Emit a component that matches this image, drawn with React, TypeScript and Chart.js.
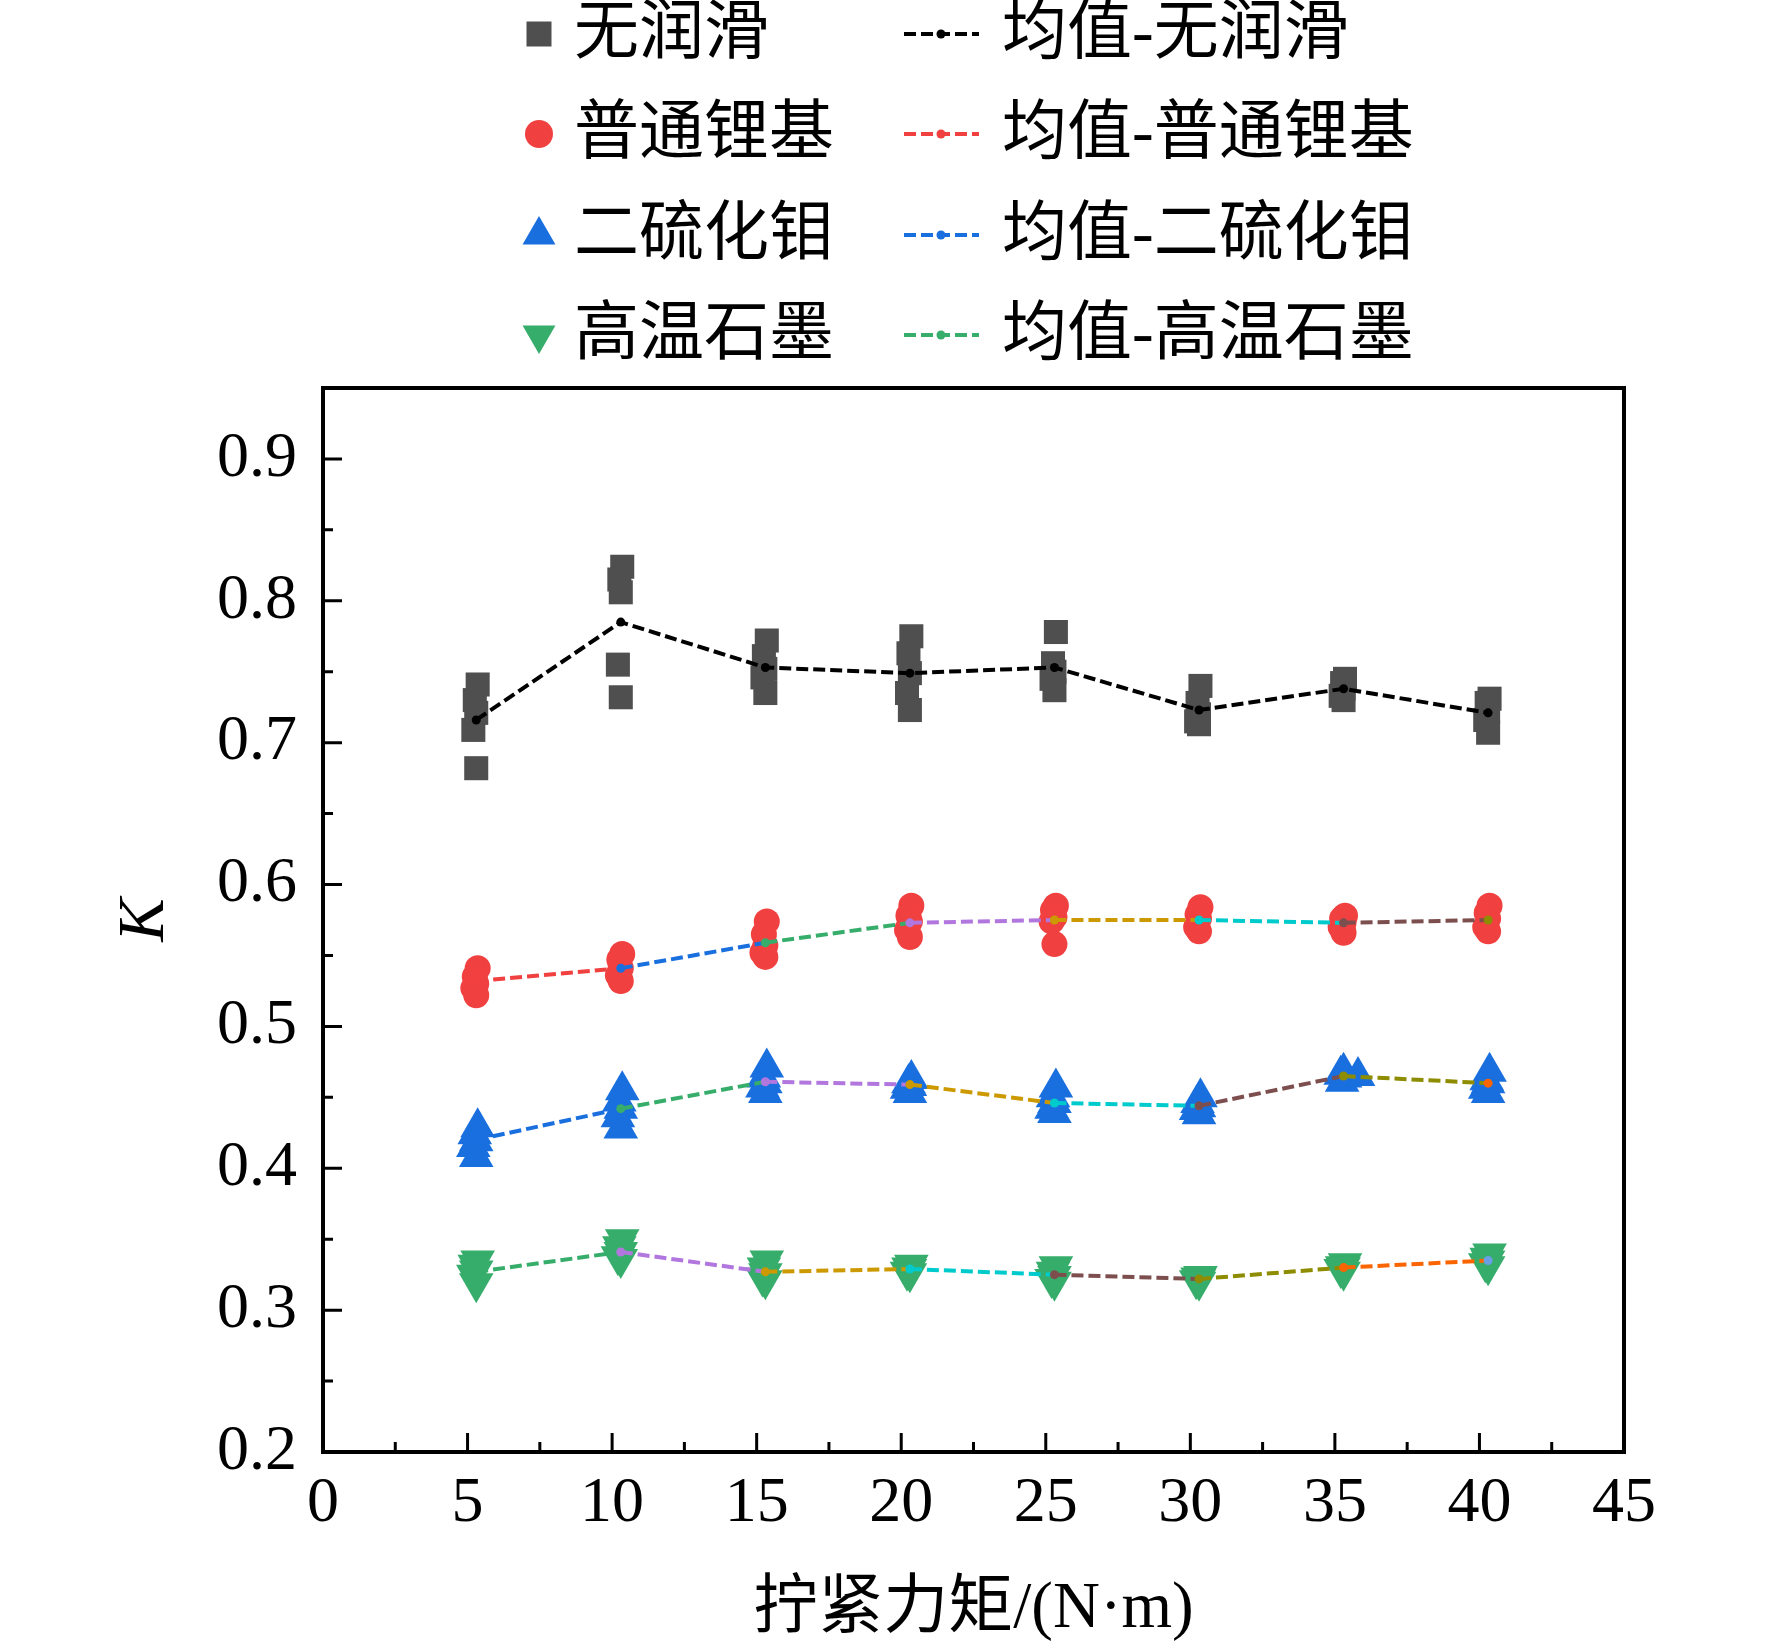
import { useEffect, useRef } from "react"
import { Chart, registerables, type ChartConfiguration, type Plugin } from "chart.js"

Chart.register(...registerables)

// 拧紧力矩 (N·m)
const torques = [5, 10, 15, 20, 25, 30, 35, 40]

// 每个力矩下 5 次测量的 K 值
const dryK = [
  [0.741, 0.730, 0.721, 0.709, 0.682],
  [0.824, 0.815, 0.806, 0.755, 0.732],
  [0.772, 0.761, 0.752, 0.746, 0.735],
  [0.775, 0.763, 0.749, 0.735, 0.723],
  [0.778, 0.756, 0.750, 0.745, 0.737],
  [0.740, 0.728, 0.720, 0.715, 0.713],
  [0.745, 0.742, 0.738, 0.733, 0.730],
  [0.731, 0.728, 0.722, 0.716, 0.707],
]
const lithiumK = [
  [0.541, 0.535, 0.530, 0.527, 0.522],
  [0.551, 0.547, 0.541, 0.536, 0.532],
  [0.574, 0.565, 0.557, 0.552, 0.549],
  [0.585, 0.578, 0.574, 0.568, 0.563],
  [0.585, 0.582, 0.577, 0.574, 0.558],
  [0.584, 0.579, 0.576, 0.570, 0.567],
  [0.578, 0.576, 0.573, 0.570, 0.566],
  [0.585, 0.580, 0.576, 0.570, 0.567],
]
const mos2K = [
  [0.429, 0.424, 0.419, 0.415, 0.408],
  [0.455, 0.447, 0.442, 0.436, 0.428],
  [0.471, 0.464, 0.460, 0.457, 0.453],
  [0.463, 0.460, 0.458, 0.456, 0.453],
  [0.457, 0.450, 0.446, 0.442, 0.439],
  [0.450, 0.446, 0.443, 0.441, 0.438],
  [0.468, 0.466, 0.465, 0.464, 0.461],
  [0.468, 0.462, 0.460, 0.456, 0.453],
]
const graphiteK = [
  [0.335, 0.332, 0.328, 0.325, 0.319],
  [0.350, 0.345, 0.341, 0.338, 0.336],
  [0.335, 0.330, 0.326, 0.323, 0.321],
  [0.332, 0.330, 0.329, 0.327, 0.326],
  [0.331, 0.327, 0.324, 0.322, 0.320],
  [0.324, 0.323, 0.322, 0.321, 0.320],
  [0.333, 0.331, 0.330, 0.329, 0.327],
  [0.340, 0.337, 0.335, 0.333, 0.331],
]

// 测点在横轴上的微小偏移 (N·m)
const jitter = [0.35, 0.25, 0.3, 0.2, 0.3]
const mos2Jitter35 = [0.3, 0.2, 0.8, 0.35, 0.25]
const meanOffset = 0.3

// 均值
const dryMean = [0.716, 0.785, 0.753, 0.749, 0.753, 0.723, 0.738, 0.721]
const lithiumMean = [0.532, 0.541, 0.559, 0.573, 0.575, 0.575, 0.573, 0.575]
const mos2Mean = [0.420, 0.442, 0.461, 0.459, 0.446, 0.444, 0.465, 0.460]
const graphiteMean = [0.327, 0.341, 0.327, 0.329, 0.325, 0.322, 0.330, 0.335]

const seriesNames = ["无润滑", "普通锂基", "二硫化钼", "高温石墨"]

const xTicks = [0, 5, 10, 15, 20, 25, 30, 35, 40, 45]
const xMinor = [2.5, 7.5, 12.5, 17.5, 22.5, 27.5, 32.5, 37.5, 42.5]
const yTicks = [0.2, 0.3, 0.4, 0.5, 0.6, 0.7, 0.8, 0.9]
const yMinor = [0.25, 0.35, 0.45, 0.55, 0.65, 0.75, 0.85]

const gray = "#4f4f4f"
const red = "#F14040"
const blue = "#1A6FDF"
const green = "#37AD6B"
const palette = ["#F14040", "#1A6FDF", "#37AD6B", "#B177DE", "#CC9900", "#00CBCC", "#7D4E4E", "#8E8C00", "#FB6501", "#6A9FE6"]

const FONT = '"Liberation Serif", "Noto Sans CJK SC", serif'

function toPoints(values: number[][], shift: (g: number, i: number) => number) {
  return values.flatMap((group, g) => group.map((y, i) => ({ x: torques[g] + shift(g, i), y })))
}

function meanPoints(values: number[]) {
  return values.map((y, i) => ({ x: torques[i] + meanOffset, y }))
}

function markerPath(ctx: CanvasRenderingContext2D, shape: string, x: number, y: number) {
  ctx.beginPath()
  if (shape === "rect") {
    ctx.rect(x - 12.5, y - 12.5, 25, 25)
  } else if (shape === "circle") {
    ctx.arc(x, y, 14, 0, Math.PI * 2)
  } else {
    const r = 19
    const dir = shape === "up" ? 1 : -1
    ctx.moveTo(x, y - dir * r)
    ctx.lineTo(x + r * Math.sin((2 * Math.PI) / 3), y + dir * r * 0.5)
    ctx.lineTo(x - r * Math.sin((2 * Math.PI) / 3), y + dir * r * 0.5)
    ctx.closePath()
  }
  ctx.fill()
}

// 边框、内向刻度与图例
const decorPlugin: Plugin = {
  id: "decor",
  afterDraw(chart) {
    const { ctx, chartArea } = chart
    const xs = chart.scales.x
    const ys = chart.scales.y
    ctx.save()
    ctx.strokeStyle = "#000"
    ctx.lineWidth = 3
    ctx.beginPath()
    xTicks.forEach((v) => {
      const px = xs.getPixelForValue(v)
      ctx.moveTo(px, chartArea.bottom)
      ctx.lineTo(px, chartArea.bottom - 19)
    })
    xMinor.forEach((v) => {
      const px = xs.getPixelForValue(v)
      ctx.moveTo(px, chartArea.bottom)
      ctx.lineTo(px, chartArea.bottom - 10)
    })
    yTicks.forEach((v) => {
      const py = ys.getPixelForValue(v)
      ctx.moveTo(chartArea.left, py)
      ctx.lineTo(chartArea.left + 19, py)
    })
    yMinor.forEach((v) => {
      const py = ys.getPixelForValue(v)
      ctx.moveTo(chartArea.left, py)
      ctx.lineTo(chartArea.left + 10, py)
    })
    ctx.stroke()
    ctx.lineWidth = 4
    ctx.strokeRect(chartArea.left, chartArea.top, chartArea.right - chartArea.left, chartArea.bottom - chartArea.top)

    // 图例
    const shapes = ["rect", "circle", "up", "down"]
    const fills = [gray, red, blue, green]
    const lines = ["#000", red, blue, green]
    const rowY = [34, 134, 235, 335]
    ctx.font = `65px ${FONT}`
    ctx.textBaseline = "middle"
    ctx.textAlign = "left"
    seriesNames.forEach((name, i) => {
      const y = rowY[i]
      ctx.fillStyle = fills[i]
      markerPath(ctx, shapes[i], 539, y)
      ctx.fillStyle = "#000"
      ctx.fillText(name, 574, y + 2)

      ctx.strokeStyle = lines[i]
      ctx.lineWidth = 4
      ctx.setLineDash([12, 5])
      ctx.beginPath()
      ctx.moveTo(904, y)
      ctx.lineTo(979, y)
      ctx.stroke()
      ctx.setLineDash([])
      ctx.fillStyle = lines[i]
      ctx.beginPath()
      ctx.arc(941, y, 4.5, 0, Math.PI * 2)
      ctx.fill()
      ctx.fillStyle = "#000"
      ctx.fillText(`均值-${name}`, 1002, y + 2)
    })
    ctx.restore()
  },
}

export default function App() {
  const canvasRef = useRef<HTMLCanvasElement>(null)
  const chartRef = useRef<Chart | null>(null)

  useEffect(() => {
    if (!canvasRef.current) return
    const ctx = canvasRef.current.getContext("2d")
    if (!ctx) return
    if (chartRef.current) chartRef.current.destroy()

    const scatterBase = { borderWidth: 0, pointHoverRadius: 0, order: 2 }
    const meanBase = {
      showLine: true,
      borderWidth: 4,
      borderDash: [12, 5],
      pointRadius: 4.5,
      pointBorderWidth: 0,
      pointHoverRadius: 0,
      tension: 0,
      fill: false,
      order: 0,
    }
    const cycled = (start: number) => ({
      borderColor: palette[start],
      pointBackgroundColor: torques.map((_, i) => palette[(start + i) % palette.length]),
      segment: {
        borderColor: (c: { p0DataIndex: number }) => palette[(start + c.p0DataIndex) % palette.length],
      },
    })

    const config: ChartConfiguration = {
      type: "scatter",
      data: {
        datasets: [
          { ...meanBase, label: `均值-${seriesNames[0]}`, data: meanPoints(dryMean), borderColor: "#000", pointBackgroundColor: "#000" },
          { ...meanBase, label: `均值-${seriesNames[1]}`, data: meanPoints(lithiumMean), ...cycled(0) },
          { ...meanBase, label: `均值-${seriesNames[2]}`, data: meanPoints(mos2Mean), ...cycled(1) },
          { ...meanBase, label: `均值-${seriesNames[3]}`, data: meanPoints(graphiteMean), ...cycled(2) },
          {
            ...scatterBase,
            label: seriesNames[0],
            data: toPoints(dryK, (_, i) => jitter[i]),
            pointStyle: "rect",
            pointRadius: 17,
            backgroundColor: gray,
          },
          {
            ...scatterBase,
            label: seriesNames[1],
            data: toPoints(lithiumK, (_, i) => jitter[i]),
            pointStyle: "circle",
            pointRadius: 13,
            backgroundColor: red,
          },
          {
            ...scatterBase,
            label: seriesNames[2],
            data: toPoints(mos2K, (g, i) => (g === 6 ? mos2Jitter35[i] : jitter[i])),
            pointStyle: "triangle",
            pointRadius: 20,
            backgroundColor: blue,
          },
          {
            ...scatterBase,
            label: seriesNames[3],
            data: toPoints(graphiteK, (_, i) => jitter[i]),
            pointStyle: "triangle",
            pointRotation: 180,
            pointRadius: 20,
            backgroundColor: green,
          },
        ],
      } as any,
      options: {
        animation: false,
        responsive: false,
        devicePixelRatio: 1,
        layout: { padding: { top: 388, right: 148, left: 0, bottom: 0 } },
        plugins: {
          legend: { display: false },
          tooltip: { enabled: false },
        },
        scales: {
          x: {
            type: "linear",
            min: 0,
            max: 45,
            afterBuildTicks: (s) => {
              s.ticks = xTicks.map((value) => ({ value }))
            },
            afterFit: (s) => {
              s.height = 197
            },
            grid: { display: false, drawTicks: false },
            border: { display: false },
            ticks: {
              color: "#000",
              font: { family: FONT, size: 64 },
              padding: 14,
              maxRotation: 0,
              autoSkip: false,
              callback: (v) => String(v),
            },
            title: {
              display: true,
              text: "拧紧力矩/(N·m)",
              color: "#000",
              font: { family: FONT, size: 65, lineHeight: 1.2 },
              padding: { top: 0, bottom: 0 },
            },
          },
          y: {
            type: "linear",
            min: 0.2,
            max: 0.95,
            afterBuildTicks: (s) => {
              s.ticks = yTicks.map((value) => ({ value }))
            },
            afterFit: (s) => {
              s.width = 323
            },
            grid: { display: false, drawTicks: false },
            border: { display: false },
            ticks: {
              color: "#000",
              font: { family: FONT, size: 64 },
              padding: 26,
              autoSkip: false,
              callback: (v) => Number(v).toFixed(1),
            },
            title: {
              display: true,
              text: "K",
              color: "#000",
              font: { family: FONT, size: 65, style: "italic", lineHeight: 1.2 },
              padding: { top: 107, bottom: 0 },
            },
          },
        },
      },
      plugins: [decorPlugin],
    }

    chartRef.current = new Chart(ctx, config)

    return () => {
      if (chartRef.current) {
        chartRef.current.destroy()
        chartRef.current = null
      }
    }
  }, [])

  return (
    <div style={{ position: "absolute", left: 0, top: 0, width: 1772, height: 1649, background: "#fff" }}>
      <canvas ref={canvasRef} width={1772} height={1649} />
    </div>
  )
}
